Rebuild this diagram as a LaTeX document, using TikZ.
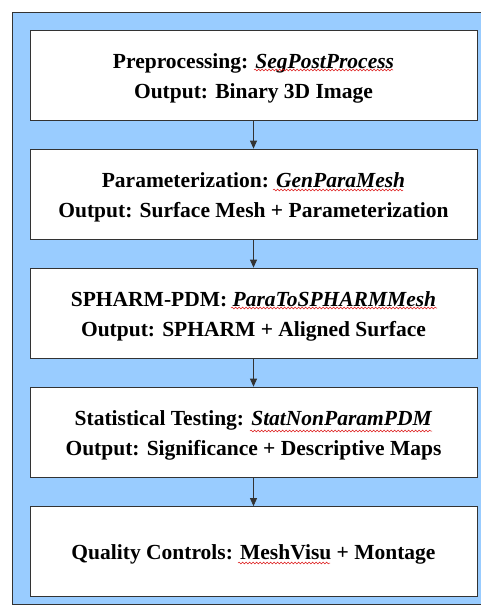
\documentclass[tikz,border=0pt]{standalone}
\usepackage{fontspec}
\setmainfont{Liberation Serif}
\usetikzlibrary{arrows.meta,decorations.pathmorphing}

\definecolor{panelblue}{RGB}{153,204,255}
\definecolor{edgegray}{RGB}{51,51,51}
\definecolor{spellred}{RGB}{220,20,20}

\tikzset{every picture/.style={line width=0.75pt}}
\tikzset{
  stagebox/.style={draw=edgegray, fill=white, minimum width=447pt, minimum height=90pt,
    inner sep=0pt, align=center, font=\fontsize{21.5}{30}\selectfont\bfseries},
  flowarrow/.style={draw=edgegray, -{Triangle[length=8pt,width=7pt]}},
  spell/.style={draw=spellred, line width=0.5pt, decorate,
    decoration={snake, amplitude=0.9pt, segment length=3.5pt}}
}

\newcommand{\prog}[1]{\textit{#1}}
\newcommand{\headstrut}{\rule{0pt}{21pt}}

\begin{document}
\begin{tikzpicture}[x=1pt,y=1pt,yscale=-1,xscale=1]
\clip (0,0) rectangle (481,606);
\useasboundingbox (0,0) rectangle (481,606);

%Shape: Rectangle [panel]
\draw [draw=edgegray, fill=panelblue] (12,12) rectangle (495,604);

% Stage Nodes
\node [stagebox] (prep) at (253.5,75) {\headstrut Preprocessing: \prog{SegPostProcess}\\Output: Binary 3D Image};
\node [stagebox] (param) at (253.5,194) {\headstrut Parameterization: \prog{GenParaMesh}\\Output: Surface Mesh + Parameterization};
\node [stagebox] (spharm) at (253.5,313) {\headstrut SPHARM-PDM: \prog{ParaToSPHARMMesh}\\Output: SPHARM + Aligned Surface};
\node [stagebox] (stat) at (253.5,432) {\headstrut Statistical Testing: \prog{StatNonParamPDM}\\Output: Significance + Descriptive Maps};
\node [stagebox] (qc) at (253.5,551.5) {\headstrut Quality Controls: MeshVisu + Montage};

% Connectors
\draw [flowarrow] (prep) -- (param);
\draw [flowarrow] (param) -- (spharm);
\draw [flowarrow] (spharm) -- (stat);
\draw [flowarrow] (stat) -- (qc);

% Spell marks
\draw [spell] (254,70) -- (393,70);
\draw [spell] (273,190) -- (403,190);
\draw [spell] (231,308) -- (437,308);
\draw [spell] (250,431) -- (432,431);
\draw [spell] (238,563) -- (330,563);

\end{tikzpicture}
\end{document}
